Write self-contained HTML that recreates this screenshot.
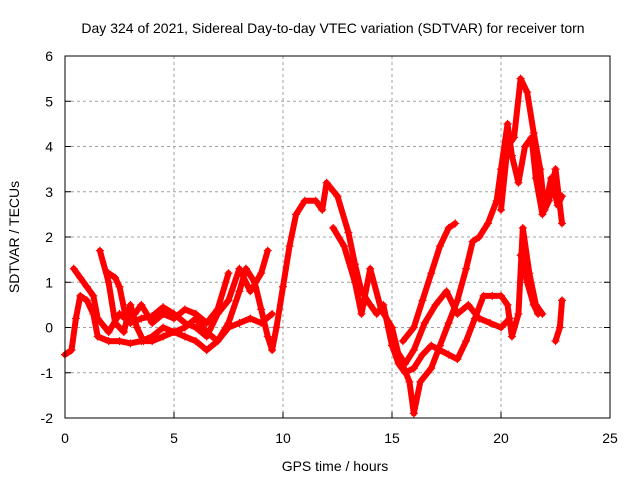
<!DOCTYPE html>
<html><head><meta charset="utf-8"><style>
body{margin:0;background:#fff}
svg text{font-family:"Liberation Sans",sans-serif;font-size:14px;fill:#000}
</style></head><body>
<svg id="chart" width="640" height="480" viewBox="0 0 640 480">
<rect width="640" height="480" fill="#fff"/>
<text x="333" y="33" text-anchor="middle">Day 324 of 2021, Sidereal Day-to-day VTEC variation (SDTVAR) for receiver torn</text>
<g id="grid"></g>
<g id="marks"></g>
<rect x="65" y="56" width="545" height="362" fill="none" stroke="#000"/>
<g id="ticks"></g>
<text x="335" y="471" text-anchor="middle">GPS time / hours</text>
<text transform="translate(19,237) rotate(-90)" text-anchor="middle">SDTVAR / TECUs</text>
</svg>
<script>
const xTicks=[0,5,10,15,20,25];
const yTicks=[-2,-1,0,1,2,3,4,5,6];
const trackA=[[0,-0.6],[0.3,-0.5],[0.5,0.2],[0.7,0.7],[1,0.6],[1.3,0.3],[1.5,-0.2],[2,-0.3],[2.5,-0.3],[3,-0.35],[3.5,-0.3],[4,-0.2],[4.5,0],[5,-0.1],[5.5,-0.2],[6,-0.3],[6.5,-0.5],[7,-0.3],[7.5,0.1],[8,0.8],[8.3,1.3],[8.7,1],[9,0.4],[9.3,-0.2],[9.5,-0.5],[9.7,0],[10,0.9],[10.3,1.8],[10.6,2.5],[11,2.8],[11.5,2.8],[11.8,2.6],[12,3.2],[12.5,2.9],[13,2.1],[13.3,1.4],[13.6,0.8],[14,0.5],[14.3,0.3],[14.6,0.5],[15,-0.4],[15.3,-0.8],[15.6,-1],[16,-0.9],[16.4,-0.6],[16.8,-0.4],[17.2,-0.5],[17.6,-0.6],[18,-0.7],[18.4,-0.3],[18.8,0.2],[19.2,0.7],[19.6,0.7],[20,0.7],[20.3,0.5],[20.5,-0.2],[20.8,0.3],[21,2.2],[21.3,1.2],[21.6,0.5],[21.9,0.3]];
const trackB=[[0.4,1.3],[0.7,1.1],[1,0.9],[1.3,0.7],[1.5,0.2],[2,-0.1],[2.5,0.3],[3,0.1],[3.5,0.2],[4,0.25],[4.5,0.45],[5,0.3],[5.5,0.1],[6,0],[6.5,-0.2],[7,0.3],[7.5,0.6],[8,1.3],[8.5,0.8],[9,1.2],[9.3,1.7]];
const trackC=[[1.6,1.7],[2,1],[2.3,0.1],[2.7,-0.1],[3,0.5],[3.3,0],[3.6,-0.3],[4,-0.3],[4.5,-0.2],[5,-0.1],[5.5,0],[6,0.2],[6.5,-0.1],[7,-0.3],[7.5,0],[8,0.1],[8.5,0.2],[9,0.1],[9.5,0.3]];
const trackD=[[2,1.2],[2.3,1.1],[2.5,0.9],[2.8,0.2],[3.2,0.3],[3.5,0.5],[4,0.1],[4.5,0.3],[5,0.2],[5.5,0.4],[6,0.3],[6.5,0.1],[7,0.4],[7.5,1.2]];
const trackE=[[12.3,2.2],[12.8,1.8],[13.3,1.0],[13.6,0.3],[14,1.3],[14.5,0.4],[15,0],[15.3,-0.6],[15.8,-1.2],[16,-1.9],[16.3,-1.2],[16.8,-0.9],[17.2,-0.4],[17.6,0.1],[18,0.6],[18.4,1.3],[18.7,1.9],[19,2],[19.4,2.3],[19.8,2.8],[20,3.5],[20.3,4.5],[20.5,3.8],[20.8,3.2],[21.1,4],[21.4,4.2],[21.6,3.3],[21.9,2.5],[22.2,2.8],[22.5,3.5],[22.8,2.3]];
const trackF=[[15.5,-0.3],[16,0],[16.4,0.6],[16.8,1.2],[17.2,1.8],[17.6,2.2],[17.9,2.3]];
const trackG=[[15.2,-0.5],[15.6,-0.8],[16,-0.5],[16.5,0.1],[17,0.5],[17.5,0.8],[18,0.3],[18.5,0.5],[19,0.2],[19.5,0.1],[20,0],[20.4,0.2]];
const trackH=[[20,2.6],[20.3,4],[20.6,4.2],[20.9,5.5],[21.2,5.2],[21.5,4.3],[21.8,3.5],[22,2.6],[22.3,3.3],[22.6,2.7],[22.8,2.9]];
const trackI=[[20.9,1.6],[21.2,1.0],[21.5,0.5],[21.7,0.3]];
const trackJ=[[22.5,-0.3],[22.7,0],[22.8,0.6]];
const tracks=[trackA,trackB,trackC,trackD,trackE,trackF,trackG,trackH,trackI,trackJ];
const NS='http://www.w3.org/2000/svg';
const X=v=>65+v*545/25, Y=v=>418-(v+2)*362/8;
function mk(t,a,p){const e=document.createElementNS(NS,t);for(const k in a)e.setAttribute(k,a[k]);p.appendChild(e);return e;}
const grid=document.getElementById('grid'),ticks=document.getElementById('ticks'),marks=document.getElementById('marks');
xTicks.forEach(t=>{
 if(t>0&&t<25){const l=mk('line',{x1:X(t),x2:X(t),y1:56,y2:418,stroke:'#a0a0a0','stroke-dasharray':'3,3'},grid);
 
 }
 const tk=mk('line',{x1:X(t),x2:X(t),y1:418,y2:412,stroke:'#000'},ticks);
 
 
 const tx=mk('text',{x:X(t),y:443,'text-anchor':'middle'},ticks);tx.textContent=t;
 
 
});
yTicks.forEach(t=>{
 if(t>-2&&t<6){const l=mk('line',{x1:65,x2:610,y1:Y(t),y2:Y(t),stroke:'#a0a0a0','stroke-dasharray':'3,3'},grid);
 
 }
 const tk=mk('line',{x1:65,x2:71,y1:Y(t),y2:Y(t),stroke:'#000'},ticks);
 
 
 const tk2=mk('line',{x1:604,x2:610,y1:Y(t),y2:Y(t),stroke:'#000'},ticks);
 
 
 const tx=mk('text',{x:53,y:Y(t)+5,'text-anchor':'end'},ticks);tx.textContent=t;
 
 
});
tracks.forEach((tr,i)=>{
 const pl=mk('polyline',{points:tr.map(p=>X(p[0])+','+Y(p[1])).join(' '),fill:'none',stroke:'#f00','stroke-width':6,'stroke-linejoin':'round','stroke-linecap':'round'},marks);
 
 
 tr.forEach(p=>{
  const x=X(p[0]),y=Y(p[1]);
  const m=mk('path',{d:`M${x-4},${y}h8M${x},${y-4}v8`,stroke:'#f00','stroke-width':1.2},marks);
  
  
 });
});
</script>
</body></html>
